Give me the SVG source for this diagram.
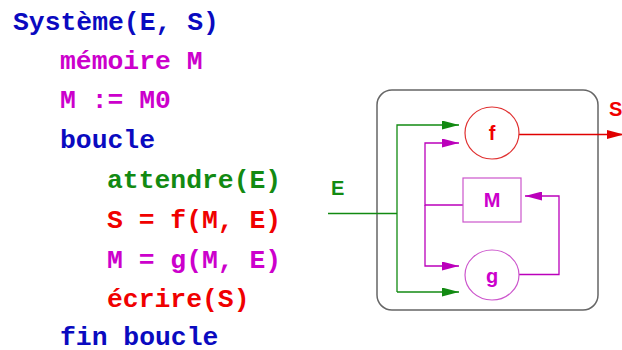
<svg xmlns="http://www.w3.org/2000/svg" width="622" height="350" viewBox="0 0 622 350">
<style>
.code{font-family:"Liberation Mono","Courier New",monospace;font-weight:bold;font-size:26.4px}
.b{fill:#0a0ac0}.m{fill:#cc00cc}.g{fill:#128a12}.r{fill:#f00000}
.lbl{font-family:"Liberation Sans",Arial,sans-serif;font-weight:bold;font-size:20px}
.ln{fill:none;stroke-width:1.3}
</style>
<defs>
<marker id="ag" markerWidth="17" markerHeight="9" refX="17" refY="4.5" orient="auto" markerUnits="userSpaceOnUse"><path d="M0,0L17,4.5L0,9z" fill="#128a12"/></marker>
<marker id="am" markerWidth="17" markerHeight="9" refX="17" refY="4.5" orient="auto" markerUnits="userSpaceOnUse"><path d="M0,0L17,4.5L0,9z" fill="#bb00bb"/></marker>
<marker id="ar" markerWidth="17" markerHeight="9" refX="17" refY="4.5" orient="auto" markerUnits="userSpaceOnUse"><path d="M0,0L17,4.5L0,9z" fill="#e00000"/></marker>
</defs>
<g id="code">
<text class="code b" x="13" y="30">Système(E, S)</text>
<text class="code m" x="60" y="69">mémoire M</text>
<text class="code m" x="60" y="108">M := M0</text>
<text class="code b" x="60" y="148">boucle</text>
<text class="code g" x="107" y="188">attendre(E)</text>
<text class="code r" x="107" y="228">S = f(M, E)</text>
<text class="code m" x="107" y="268">M = g(M, E)</text>
<text class="code r" x="107" y="307">écrire(S)</text>
<text class="code b" x="60" y="345">fin boucle</text>
</g>
<g id="system">
<rect x="377" y="90" width="221" height="220" rx="15" fill="none" stroke="#666" stroke-width="1.5"/>
</g>
<g id="connectors">
<path class="ln" stroke="#128a12" d="M328,213.5H397"/>
<path class="ln" stroke="#128a12" d="M397,292V125H459" marker-end="url(#ag)"/>
<path class="ln" stroke="#128a12" d="M397,292H459" marker-end="url(#ag)"/>
<path class="ln" stroke="#bb00bb" d="M463,205H425V143H459" marker-end="url(#am)"/>
<path class="ln" stroke="#bb00bb" d="M425,205V266H459" marker-end="url(#am)"/>
<path class="ln" stroke="#bb00bb" d="M519,274.5H559V196H525" marker-end="url(#am)"/>
<path class="ln" stroke="#e00000" d="M519,134.5H624" marker-end="url(#ar)"/>
</g>
<g id="node-f">
<ellipse cx="492" cy="133" rx="27" ry="26" fill="#fff" stroke="#e03030" stroke-width="1.2"/>
<text class="lbl r" x="492" y="140" text-anchor="middle">f</text>
</g>
<g id="node-M">
<rect x="463" y="178" width="58" height="44" fill="#fff" stroke="#cc55cc" stroke-width="1.2"/>
<text class="lbl m" x="492" y="207" text-anchor="middle">M</text>
</g>
<g id="node-g">
<ellipse cx="492" cy="275" rx="27" ry="25" fill="#fff" stroke="#cc55cc" stroke-width="1.2"/>
<text class="lbl m" x="492" y="283" text-anchor="middle">g</text>
</g>
<g id="labels">
<text class="lbl g" x="331" y="195">E</text>
<text class="lbl r" x="609" y="116">S</text>
</g>
</svg>
